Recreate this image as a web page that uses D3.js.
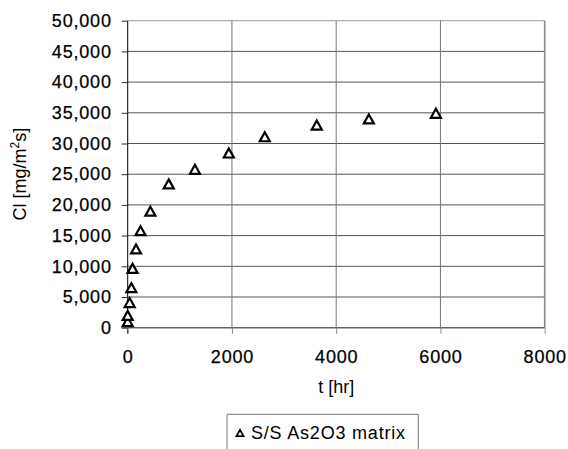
<!DOCTYPE html>
<html lang="en">
<head>
<meta charset="UTF-8">
<title>Cl vs t</title>
<style>
    * { margin: 0; padding: 0 }
    body { background: #fff; }
    text { font-family: "Liberation Sans", Arial, Helvetica, sans-serif; fill: #000; }
</style>
</head>
<body>
<div id="main"></div>
<script src="https://d3js.org/d3.v7.min.js"></script>
<script>
    // data
    const tHours = [0, 0, 38, 70, 93, 160, 246, 435, 787, 1290, 1940, 2630, 3627, 4626, 5912];
    const clValues = [1000, 2000, 4100, 6520, 9660, 12830, 15800, 18980, 23420, 25800, 28450, 31100, 33000, 34000, 34920];
    const xTicks = [0, 2000, 4000, 6000, 8000];
    const yTicks = [0, 5000, 10000, 15000, 20000, 25000, 30000, 35000, 40000, 45000, 50000];
    const seriesName = 'S/S As2O3 matrix';

    const W = 568, H = 449;
    const pLeft = 127.7, pRight = 544.7, pTop = 20.7, pBottom = 327.7;

    const x = d3.scaleLinear().domain([0, 8000]).range([pLeft, pRight]);
    const y = d3.scaleLinear().domain([0, 50000]).range([pBottom, pTop]);

    const svg = d3.select('#main').append('svg')
        .attr('width', W)
        .attr('height', H);

    // open triangle centred on its box
    const tri = {
        draw(ctx, size) {
            const w = Math.sqrt(size) / 2, h = w * 0.9;
            ctx.moveTo(0, -h);
            ctx.lineTo(w, h);
            ctx.lineTo(-w, h);
            ctx.closePath();
        }
    };

    // grid
    svg.append('g').selectAll('line.h')
        .data(yTicks.filter(d => d > 0))
        .enter().append('line')
        .attr('x1', pLeft).attr('x2', pRight)
        .attr('y1', d => y(d)).attr('y2', d => y(d))
        .attr('stroke', d => d === 50000 ? '#999' : '#555')
        .attr('stroke-width', 1);
    svg.append('g').selectAll('line.v')
        .data(xTicks.filter(d => d > 0))
        .enter().append('line')
        .attr('x1', d => x(d)).attr('x2', d => x(d))
        .attr('y1', pTop).attr('y2', pBottom)
        .attr('stroke', d => d === 8000 ? '#888' : '#777')
        .attr('stroke-width', d => d === 8000 ? 1.6 : 1);

    // axes
    const yAxis = svg.append('g')
        .attr('transform', `translate(${pLeft},0)`)
        .call(d3.axisLeft(y).tickValues(yTicks).tickSize(6).tickPadding(10)
            .tickFormat(d3.format(',')));
    const xAxis = svg.append('g')
        .attr('transform', `translate(0,${pBottom})`)
        .call(d3.axisBottom(x).tickValues(xTicks).tickSize(6).tickPadding(17)
            .tickFormat(d3.format('d')));

    yAxis.select('.domain').attr('stroke', '#000').attr('d', `M0,${pTop}V${pBottom + 6}`);
    yAxis.selectAll('.tick line').attr('stroke', '#333');
    xAxis.select('.domain').attr('stroke', '#666').attr('stroke-width', 1.4).attr('d', `M${pLeft - 6},0H${pRight}`);
    xAxis.selectAll('.tick line').attr('stroke', '#888');
    [yAxis, xAxis].forEach(a => a.selectAll('text')
        .style('font-family', '"Liberation Sans", Arial, sans-serif')
        .style('font-size', '18px')
        .style('letter-spacing', '0.8px')
        .attr('fill', '#000')
        .attr('stroke', '#000')
        .attr('stroke-width', 0.25));

    // axis titles
    svg.append('text')
        .attr('transform', `translate(26,${(pTop + pBottom) / 2}) rotate(-90)`)
        .attr('text-anchor', 'middle')
        .style('font-size', '18px')
        .html('Cl [mg/m<tspan dy="-7" font-size="12">2</tspan><tspan dy="7">s]</tspan>');
    svg.append('text')
        .attr('x', (pLeft + pRight) / 2)
        .attr('y', 393)
        .attr('text-anchor', 'middle')
        .style('font-size', '18px')
        .text('t [hr]');

    // points
    const pts = tHours.map((t, i) => [t, clValues[i]]);
    svg.append('g').selectAll('path.pt')
        .data(pts)
        .enter().append('path')
        .attr('class', 'pt')
        .attr('transform', d => `translate(${x(d[0])},${y(d[1])})`)
        .attr('d', d3.symbol().type(tri).size(100))
        .attr('fill', '#fff')
        .attr('stroke', '#000')
        .attr('stroke-width', 2.2);

    // legend
    const lg = svg.append('g');
    lg.append('path')
        .attr('d', `M227,${H + 2}V414.3H418.3V${H + 2}`)
        .attr('fill', 'none')
        .attr('stroke', '#777')
        .attr('stroke-width', 1);
    lg.append('path')
        .attr('transform', 'translate(240,433)')
        .attr('d', d3.symbol().type(tri).size(49))
        .attr('fill', '#fff')
        .attr('stroke', '#000')
        .attr('stroke-width', 1.8);
    lg.append('text')
        .attr('x', 251)
        .attr('y', 439)
        .style('font-size', '18px')
        .style('letter-spacing', '0.8px')
        .text(seriesName);
</script>
</body>
</html>
